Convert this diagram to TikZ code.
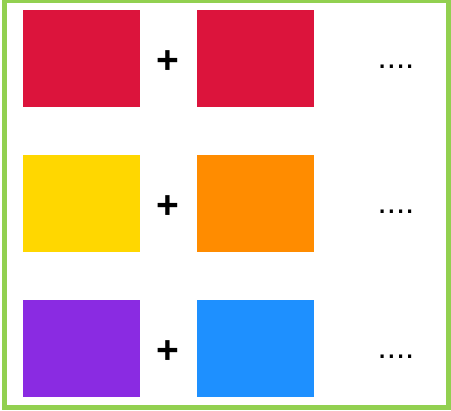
\documentclass[tikz,border=0pt]{standalone}
\usepackage{fontspec}
\setmainfont{Liberation Sans}
\usepackage{xcolor}
\definecolor{sqred}{RGB}{220,20,60}
\definecolor{sqyellow}{RGB}{255,215,0}
\definecolor{sqorange}{RGB}{255,140,0}
\definecolor{sqpurple}{RGB}{138,43,226}
\definecolor{sqblue}{RGB}{30,144,255}
\definecolor{framegreen}{RGB}{146,208,80}
\usepackage{tikz}
\usetikzlibrary{positioning}

\tikzset{
  swatch/.style={rectangle, minimum width=117pt, minimum height=97pt, inner sep=0pt, draw=none},
  plus/.style={font=\fontsize{39}{39}\selectfont\bfseries, inner sep=0pt},
  more/.style={font=\fontsize{33}{33}\selectfont, inner sep=0pt, anchor=base}
}

\begin{document}
\begin{tikzpicture}[x=1pt, y=-1pt]
  \useasboundingbox (0,0) rectangle (451,411);
  % --- Frame ---
  \draw[framegreen, line width=5pt] (4.5,1) rectangle (448,407.5);

  % --- Row 1 ---
  \node[swatch, fill=sqred] (a1) at (81.5,58.5) {};
  \node[swatch, fill=sqred] (b1) at (255.5,58.5) {};
  \node[plus] (p1) at (167.5,62.5) {+};
  \node[more] (d1) at (396,69) {....};

  % --- Row 2 ---
  \node[swatch, fill=sqyellow] (a2) at (81.5,203.5) {};
  \node[swatch, fill=sqorange] (b2) at (255.5,203.5) {};
  \node[plus] (p2) at (167.5,207.5) {+};
  \node[more] (d2) at (396,214) {....};

  % --- Row 3 ---
  \node[swatch, fill=sqpurple] (a3) at (81.5,348.5) {};
  \node[swatch, fill=sqblue] (b3) at (255.5,348.5) {};
  \node[plus] (p3) at (167.5,352.5) {+};
  \node[more] (d3) at (396,359) {....};
\end{tikzpicture}
\end{document}
